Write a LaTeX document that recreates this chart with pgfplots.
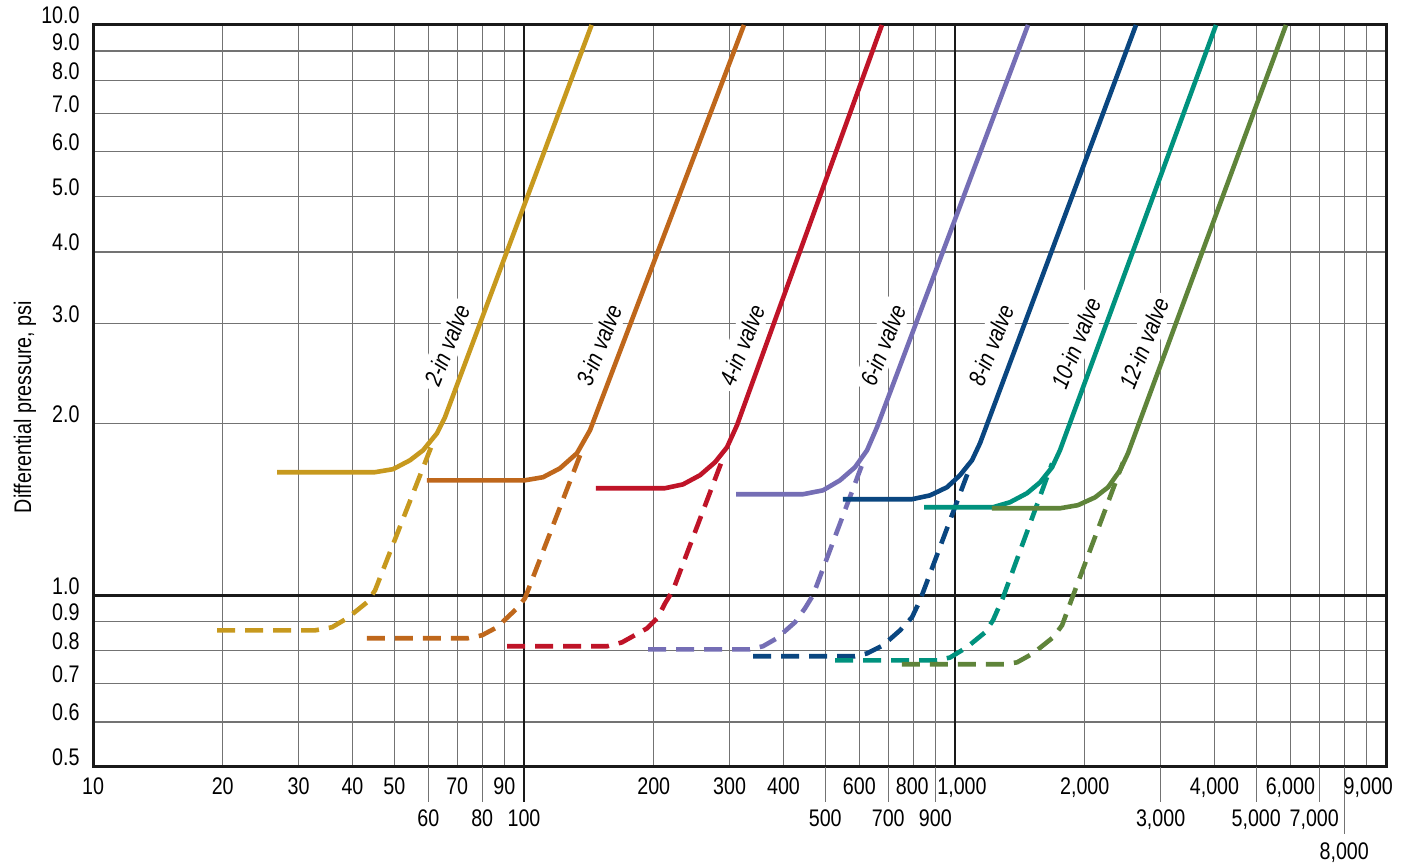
\documentclass[border=0pt]{standalone}
\usepackage{fontspec}
\setmainfont{Liberation Sans}[FakeStretch=0.82]
\usepackage{pgfplots}
\pgfplotsset{compat=1.18}
\definecolor{c2}{RGB}{199,153,30}
\definecolor{c3}{RGB}{191,103,27}
\definecolor{c4}{RGB}{191,20,40}
\definecolor{c6}{RGB}{117,110,181}
\definecolor{c8}{RGB}{10,70,128}
\definecolor{c10}{RGB}{0,146,126}
\definecolor{c12}{RGB}{95,132,58}
\tikzset{
  curve/.style={line width=2.3pt, line join=round},
  dcurve/.style={line width=2.3pt, line join=round, dash pattern=on 9pt off 5pt},
  lab/.style={rotate=68, inner sep=2.5pt, fill=white, font=\itshape},
  xl/.style={anchor=base, inner sep=0pt, yshift=-14pt},
  xll/.style={anchor=base, inner sep=0pt, yshift=-30pt},
}
\begin{document}
\fontsize{12}{14}\selectfont
\begin{tikzpicture}
\path[use as bounding box] (-46.5pt,-49pt) rectangle (657.5pt,383.5pt);
\begin{axis}[
  at={(0,0)}, anchor=south west,
  scale only axis, width=646.5pt, height=371pt,
  xmode=log, ymode=log,
  xmin=10, xmax=10000, ymin=0.5, ymax=10,
  xtick={10,20,30,40,50,60,70,80,90,100,200,300,400,500,600,700,800,900,1000,2000,3000,4000,5000,6000,7000,8000,9000,10000},
  xticklabels={},
  ytick={0.5,0.6,0.7,0.8,0.9,1,2,3,4,5,6,7,8,9,10},
  yticklabels={0.5,0.6,0.7,0.8,0.9,1.0,2.0,3.0,4.0,5.0,6.0,7.0,8.0,9.0,10.0},
  yticklabel style={anchor=base east, inner sep=0pt, xshift=-6.5pt, yshift=0.5pt},
  tick style={draw=none},
  grid=major,
  major grid style={black!55, line width=0.7pt},
  axis line style={black!90, line width=1.5pt},
  clip=false,
]
% thick reference lines
\draw[black!90, line width=1.4pt] (axis cs:100,10) -- (axis cs:100,0.5) -- ++(0pt,-17.5pt);
\draw[black!90, line width=1.4pt] (axis cs:1000,10) -- (axis cs:1000,0.5);
\draw[black!90, line width=1.4pt] (axis cs:10,1) -- (axis cs:10000,1);
% tick extensions
\draw[black!55, line width=0.7pt] (axis cs:60,0.5) -- ++(0pt,-17.5pt);
\draw[black!55, line width=0.7pt] (axis cs:80,0.5) -- ++(0pt,-17.5pt);
\draw[black!55, line width=0.7pt] (axis cs:500,0.5) -- ++(0pt,-17.5pt);
\draw[black!55, line width=0.7pt] (axis cs:700,0.5) -- ++(0pt,-17.5pt);
\draw[black!55, line width=0.7pt] (axis cs:900,0.5) -- ++(0pt,-17.5pt);
\draw[black!55, line width=0.7pt] (axis cs:3000,0.5) -- ++(0pt,-17.5pt);
\draw[black!55, line width=0.7pt] (axis cs:5000,0.5) -- ++(0pt,-17.5pt);
\draw[black!55, line width=0.7pt] (axis cs:7000,0.5) -- ++(0pt,-17.5pt);
\draw[black!55, line width=0.7pt] (axis cs:8000,0.5) -- ++(0pt,-33.5pt);
% x labels
\node[xl] at (axis cs:10,0.5) {10};
\node[xl] at (axis cs:20,0.5) {20};
\node[xl] at (axis cs:30,0.5) {30};
\node[xl] at (axis cs:40,0.5) {40};
\node[xl] at (axis cs:50,0.5) {50};
\node[xl] at (axis cs:70,0.5) {70};
\node[xl] at (axis cs:90,0.5) {90};
\node[xl] at (axis cs:200,0.5) {200};
\node[xl] at (axis cs:300,0.5) {300};
\node[xl] at (axis cs:400,0.5) {400};
\node[xl] at (axis cs:600,0.5) {600};
\node[xl, xshift=-0.5pt] at (axis cs:800,0.5) {800};
\node[xl, xshift=3.5pt] at (axis cs:1000,0.5) {1,000};
\node[xl] at (axis cs:2000,0.5) {2,000};
\node[xl] at (axis cs:4000,0.5) {4,000};
\node[xl] at (axis cs:6000,0.5) {6,000};
\node[xl, xshift=1pt] at (axis cs:9000,0.5) {9,000};
\node[xll] at (axis cs:60,0.5) {60};
\node[xll] at (axis cs:80,0.5) {80};
\node[xll] at (axis cs:100,0.5) {100};
\node[xll] at (axis cs:500,0.5) {500};
\node[xll] at (axis cs:700,0.5) {700};
\node[xll] at (axis cs:900,0.5) {900};
\node[xll] at (axis cs:3000,0.5) {3,000};
\node[xll] at (axis cs:5000,0.5) {5,000};
\node[xll, xshift=-2.5pt] at (axis cs:7000,0.5) {7,000};
\node[anchor=base, inner sep=0pt, yshift=-46.5pt] at (axis cs:8000,0.5) {8,000};
% y label
\node[rotate=90, anchor=center] at (axis description cs:-0.0526,0.485) {Differential pressure, psi};
% curve labels
\node[lab] at (axis cs:66.27,2.745) {2-in valve};
\node[lab] at (axis cs:149.3,2.745) {3-in valve};
\node[lab] at (axis cs:320.5,2.745) {4-in valve};
\node[lab] at (axis cs:680.5,2.745) {6-in valve};
\node[lab] at (axis cs:1212,2.745) {8-in valve};
\node[lab] at (axis cs:1908,2.768) {10-in valve};
\node[lab] at (axis cs:2745,2.768) {12-in valve};
% 2-in
\addplot[dcurve, c2] coordinates {(19.40,0.868) (32.74,0.868) (35.85,0.879) (38.85,0.911) (43.22,0.972) (45.12,1.020) (61.50,1.855)};
\addplot[curve, c2] coordinates {(26.73,1.644) (45.12,1.644) (49.67,1.664) (54.39,1.725) (58.31,1.796) (62.83,1.924) (65.57,2.053) (143.5,10)};
% 3-in
\addplot[dcurve, c3] coordinates {(43.22,0.841) (74.15,0.841) (79.89,0.851) (86.57,0.879) (96.34,0.949) (100.5,0.988) (136.3,1.796)};
\addplot[curve, c3] coordinates {(59.55,1.591) (100.5,1.591) (110.7,1.611) (121.2,1.670) (132.7,1.775) (142.3,1.948) (323.9,10)};
% 4-in
\addplot[dcurve, c4] coordinates {(91.32,0.814) (155.8,0.814) (168.8,0.827) (192.9,0.875) (204.6,0.915) (212.4,0.968) (221.6,1.020) (289.5,1.740)};
\addplot[curve, c4] coordinates {(146.9,1.541) (212.4,1.541) (233.8,1.565) (256.1,1.624) (277.4,1.711) (295.8,1.818) (312.0,1.987) (676.9,10)};
% 6-in
\addplot[dcurve, c6] coordinates {(194.0,0.804) (334.4,0.804) (358.4,0.814) (386.4,0.841) (425.5,0.897) (448.7,0.949) (468.3,1.0) (611.7,1.711)};
\addplot[curve, c6] coordinates {(310.4,1.504) (444.0,1.504) (494.0,1.528) (541.0,1.591) (586.1,1.677) (625.0,1.796) (659.2,1.971) (1477,10)};
% 8-in
\addplot[dcurve, c8] coordinates {(339.9,0.782) (586.1,0.782) (625.0,0.791) (680.5,0.817) (745.4,0.868) (794.8,0.915) (829.6,0.980) (1083,1.677)};
\addplot[curve, c8] coordinates {(549.6,1.474) (794.8,1.474) (875.0,1.497) (958.3,1.547) (1027,1.624) (1095,1.725) (1143,1.848) (2630,10)};
% 10-in
\addplot[dcurve, c10] coordinates {(526.8,0.769) (908.3,0.769) (973.6,0.778) (1066,0.811) (1174,0.861) (1225,0.904) (1293,0.992) (1680,1.704)};
\addplot[curve, c10] coordinates {(847.4,1.427) (1225,1.427) (1341,1.456) (1469,1.510) (1575,1.578) (1680,1.677) (1752,1.796) (4033,10)};
% 12-in
\addplot[dcurve, c12] coordinates {(753.4,0.757) (1306,0.757) (1393,0.763) (1517,0.791) (1689,0.844) (1772,0.886) (1869,0.988) (2454,1.711)};
\addplot[curve, c12] coordinates {(1218,1.421) (1752,1.421) (1929,1.439) (2113,1.485) (2265,1.547) (2415,1.657) (2520,1.775) (5861,10)};
\end{axis}
\end{tikzpicture}
\end{document}
